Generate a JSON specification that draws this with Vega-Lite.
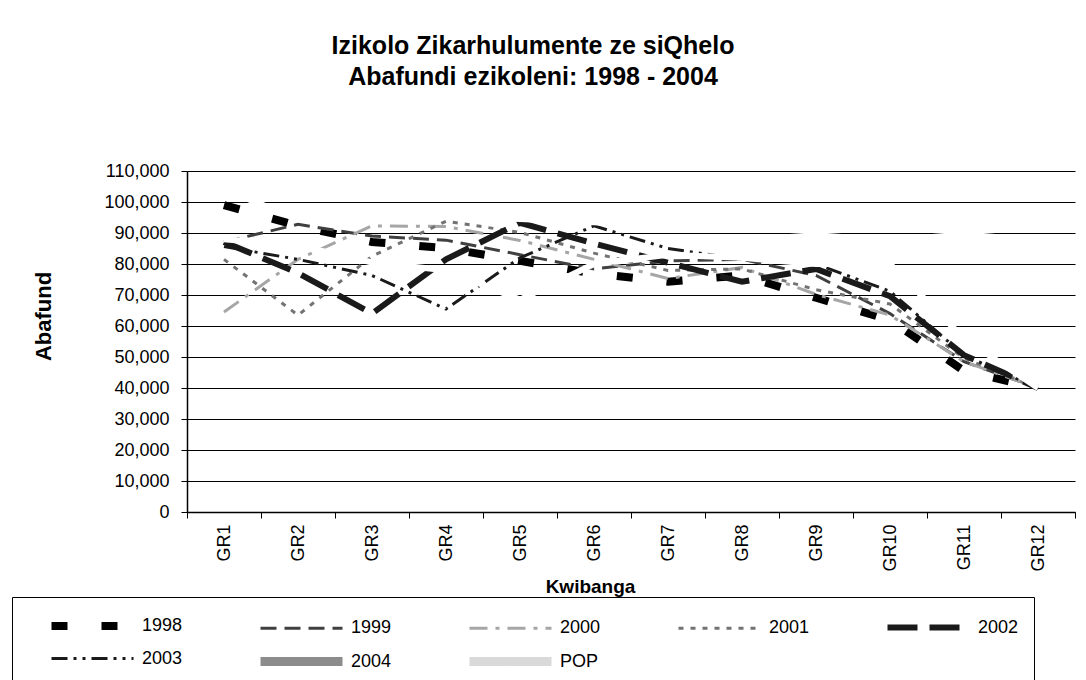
{
  "$schema": "https://vega.github.io/schema/vega-lite/v6.json",
  "autosize": {"type": "none"},
  "width": 888,
  "height": 341,
  "padding": {"left": 187, "top": 171, "right": 11, "bottom": 168},
  "background": "white",
  "config": {"view": {"stroke": null}, "font": "Liberation Sans"},
  "title": {
    "text": ["Izikolo Zikarhulumente ze siQhelo", "Abafundi ezikoleni: 1998 - 2004"],
    "fontSize": 25, "fontWeight": "bold", "font": "Liberation Sans", "color": "black",
    "anchor": "middle", "dx": -98, "offset": 72, "lineHeight": 31
  },
  "data": {"values": [
    {"grade": "GR1", "series": "1998", "value": 99000},
    {"grade": "GR2", "series": "1998", "value": 92300},
    {"grade": "GR3", "series": "1998", "value": 87100},
    {"grade": "GR4", "series": "1998", "value": 85100},
    {"grade": "GR5", "series": "1998", "value": 81000},
    {"grade": "GR6", "series": "1998", "value": 76900},
    {"grade": "GR7", "series": "1998", "value": 74300},
    {"grade": "GR8", "series": "1998", "value": 76300},
    {"grade": "GR9", "series": "1998", "value": 69100},
    {"grade": "GR10", "series": "1998", "value": 61900},
    {"grade": "GR11", "series": "1998", "value": 45500},
    {"grade": "GR12", "series": "1998", "value": 40000},
    {"grade": "GR1", "series": "1999", "value": 87100},
    {"grade": "GR2", "series": "1999", "value": 92800},
    {"grade": "GR3", "series": "1999", "value": 89000},
    {"grade": "GR4", "series": "1999", "value": 87700},
    {"grade": "GR5", "series": "1999", "value": 83000},
    {"grade": "GR6", "series": "1999", "value": 78400},
    {"grade": "GR7", "series": "1999", "value": 81000},
    {"grade": "GR8", "series": "1999", "value": 81500},
    {"grade": "GR9", "series": "1999", "value": 76300},
    {"grade": "GR10", "series": "1999", "value": 64000},
    {"grade": "GR11", "series": "1999", "value": 48500},
    {"grade": "GR12", "series": "1999", "value": 40000},
    {"grade": "GR1", "series": "2000", "value": 64500},
    {"grade": "GR2", "series": "2000", "value": 81500},
    {"grade": "GR3", "series": "2000", "value": 92300},
    {"grade": "GR4", "series": "2000", "value": 92100},
    {"grade": "GR5", "series": "2000", "value": 87600},
    {"grade": "GR6", "series": "2000", "value": 81500},
    {"grade": "GR7", "series": "2000", "value": 75300},
    {"grade": "GR8", "series": "2000", "value": 78900},
    {"grade": "GR9", "series": "2000", "value": 70200},
    {"grade": "GR10", "series": "2000", "value": 63500},
    {"grade": "GR11", "series": "2000", "value": 48500},
    {"grade": "GR12", "series": "2000", "value": 40000},
    {"grade": "GR1", "series": "2001", "value": 81500},
    {"grade": "GR2", "series": "2001", "value": 63500},
    {"grade": "GR3", "series": "2001", "value": 82500},
    {"grade": "GR4", "series": "2001", "value": 93800},
    {"grade": "GR5", "series": "2001", "value": 90200},
    {"grade": "GR6", "series": "2001", "value": 83500},
    {"grade": "GR7", "series": "2001", "value": 77900},
    {"grade": "GR8", "series": "2001", "value": 78400},
    {"grade": "GR9", "series": "2001", "value": 71700},
    {"grade": "GR10", "series": "2001", "value": 67100},
    {"grade": "GR11", "series": "2001", "value": 49600},
    {"grade": "GR12", "series": "2001", "value": 40000},
    {"grade": "GR1", "series": "2002", "value": 87100},
    {"grade": "GR2", "series": "2002", "value": 77100},
    {"grade": "GR3", "series": "2002", "value": 64000},
    {"grade": "GR4", "series": "2002", "value": 81500},
    {"grade": "GR5", "series": "2002", "value": 93300},
    {"grade": "GR6", "series": "2002", "value": 86600},
    {"grade": "GR7", "series": "2002", "value": 80400},
    {"grade": "GR8", "series": "2002", "value": 74300},
    {"grade": "GR9", "series": "2002", "value": 78400},
    {"grade": "GR10", "series": "2002", "value": 69600},
    {"grade": "GR11", "series": "2002", "value": 50600},
    {"grade": "GR12", "series": "2002", "value": 40000},
    {"grade": "GR1", "series": "2003", "value": 85600},
    {"grade": "GR2", "series": "2003", "value": 81500},
    {"grade": "GR3", "series": "2003", "value": 76300},
    {"grade": "GR4", "series": "2003", "value": 65500},
    {"grade": "GR5", "series": "2003", "value": 82000},
    {"grade": "GR6", "series": "2003", "value": 92300},
    {"grade": "GR7", "series": "2003", "value": 85000},
    {"grade": "GR8", "series": "2003", "value": 81500},
    {"grade": "GR9", "series": "2003", "value": 80000},
    {"grade": "GR10", "series": "2003", "value": 71200},
    {"grade": "GR11", "series": "2003", "value": 50600},
    {"grade": "GR12", "series": "2003", "value": 40000},
    {"grade": "GR1", "series": "2004", "value": 88000},
    {"grade": "GR2", "series": "2004", "value": 86000},
    {"grade": "GR3", "series": "2004", "value": 80500},
    {"grade": "GR4", "series": "2004", "value": 78000},
    {"grade": "GR5", "series": "2004", "value": 68500},
    {"grade": "GR6", "series": "2004", "value": 80000},
    {"grade": "GR7", "series": "2004", "value": 83000},
    {"grade": "GR8", "series": "2004", "value": 82000},
    {"grade": "GR9", "series": "2004", "value": 80000},
    {"grade": "GR10", "series": "2004", "value": 80000},
    {"grade": "GR11", "series": "2004", "value": 56000},
    {"grade": "GR12", "series": "2004", "value": 40000},
    {"grade": "GR1", "series": "POP", "value": 104000},
    {"grade": "GR2", "series": "POP", "value": 94500},
    {"grade": "GR3", "series": "POP", "value": 94000},
    {"grade": "GR4", "series": "POP", "value": 95500},
    {"grade": "GR5", "series": "POP", "value": 94500},
    {"grade": "GR6", "series": "POP", "value": 93500},
    {"grade": "GR7", "series": "POP", "value": 92500},
    {"grade": "GR8", "series": "POP", "value": 92000},
    {"grade": "GR9", "series": "POP", "value": 90400},
    {"grade": "GR10", "series": "POP", "value": 92000},
    {"grade": "GR11", "series": "POP", "value": 90200},
    {"grade": "GR12", "series": "POP", "value": 92000}
  ]},
  "encoding": {
    "x": {
      "field": "grade", "type": "ordinal",
      "sort": ["GR1","GR2","GR3","GR4","GR5","GR6","GR7","GR8","GR9","GR10","GR11","GR12"],
      "scale": {"type": "band", "paddingInner": 0, "paddingOuter": 0},
      "bandPosition": 0.5,
      "axis": {
        "tickBand": "extent", "grid": false, "labelAngle": -90,
        "domainColor": "black", "domainWidth": 1.5, "tickColor": "black", "tickSize": 6,
        "labelFontSize": 18, "labelColor": "black", "labelPadding": 6,
        "title": "Kwibanga", "titleFontSize": 19, "titleFontWeight": "bold", "titleColor": "black",
        "titlePadding": 6, "titleX": 403
      }
    },
    "y": {
      "field": "value", "type": "quantitative",
      "scale": {"domain": [0, 110000], "nice": false},
      "axis": {
        "values": [0,10000,20000,30000,40000,50000,60000,70000,80000,90000,100000,110000],
        "format": ",d", "grid": true, "gridColor": "black", "gridWidth": 1,
        "domainColor": "black", "domainWidth": 1.5, "tickColor": "black", "tickSize": 6,
        "labelFontSize": 18, "labelColor": "black", "labelPadding": 12,
        "title": "Abafund", "titleFontSize": 22, "titleFontWeight": "bold", "titleColor": "black",
        "titlePadding": 48, "titleY": 145
      }
    },
    "order": {"value": null}
  },
  "layer": [
    {
      "transform": [{"filter": "datum.series != '2004' && datum.series != 'POP'"}],
      "mark": {"type": "line", "strokeCap": "butt"},
      "encoding": {
        "color": {
          "field": "series", "type": "nominal",
          "scale": {"domain": ["1998","1999","2000","2001","2002","2003","2004","POP"],
                    "range": ["#000000","#404040","#a6a6a6","#737373","#1a1a1a","#1a1a1a","#8c8c8c","#d9d9d9"]},
          "legend": {
            "orient": "none", "legendX": -175, "legendY": 426, "direction": "horizontal", "columns": 5,
            "title": null, "symbolType": "M1,0H9.2", "symbolSize": 400,
            "labelFontSize": 18, "labelColor": "black", "labelOffset": 86,
            "columnPadding": 53, "rowPadding": 1, "padding": 15,
            "strokeColor": "black", "fillColor": "white"
          }
        },
        "strokeDash": {
          "field": "series", "type": "nominal",
          "scale": {"domain": ["1998","1999","2000","2001","2002","2003","2004","POP"],
                    "range": [[16,34],[16,8],[18,8,4,8],[5,7],[30,12],[16,6,3,6,3,6],[1,0],[1,0]]}
        },
        "strokeWidth": {
          "field": "series", "type": "nominal",
          "scale": {"type": "ordinal", "domain": ["1998","1999","2000","2001","2002","2003","2004","POP"],
                    "range": [8,3,3,3,6,3,9,9]}
        }
      }
    },
    {
      "transform": [{"filter": "datum.series == '2004' || datum.series == 'POP'"}],
      "mark": {"type": "line", "color": "white", "strokeWidth": 6},
      "encoding": {"detail": {"field": "series", "type": "nominal"}}
    }
  ]
}
